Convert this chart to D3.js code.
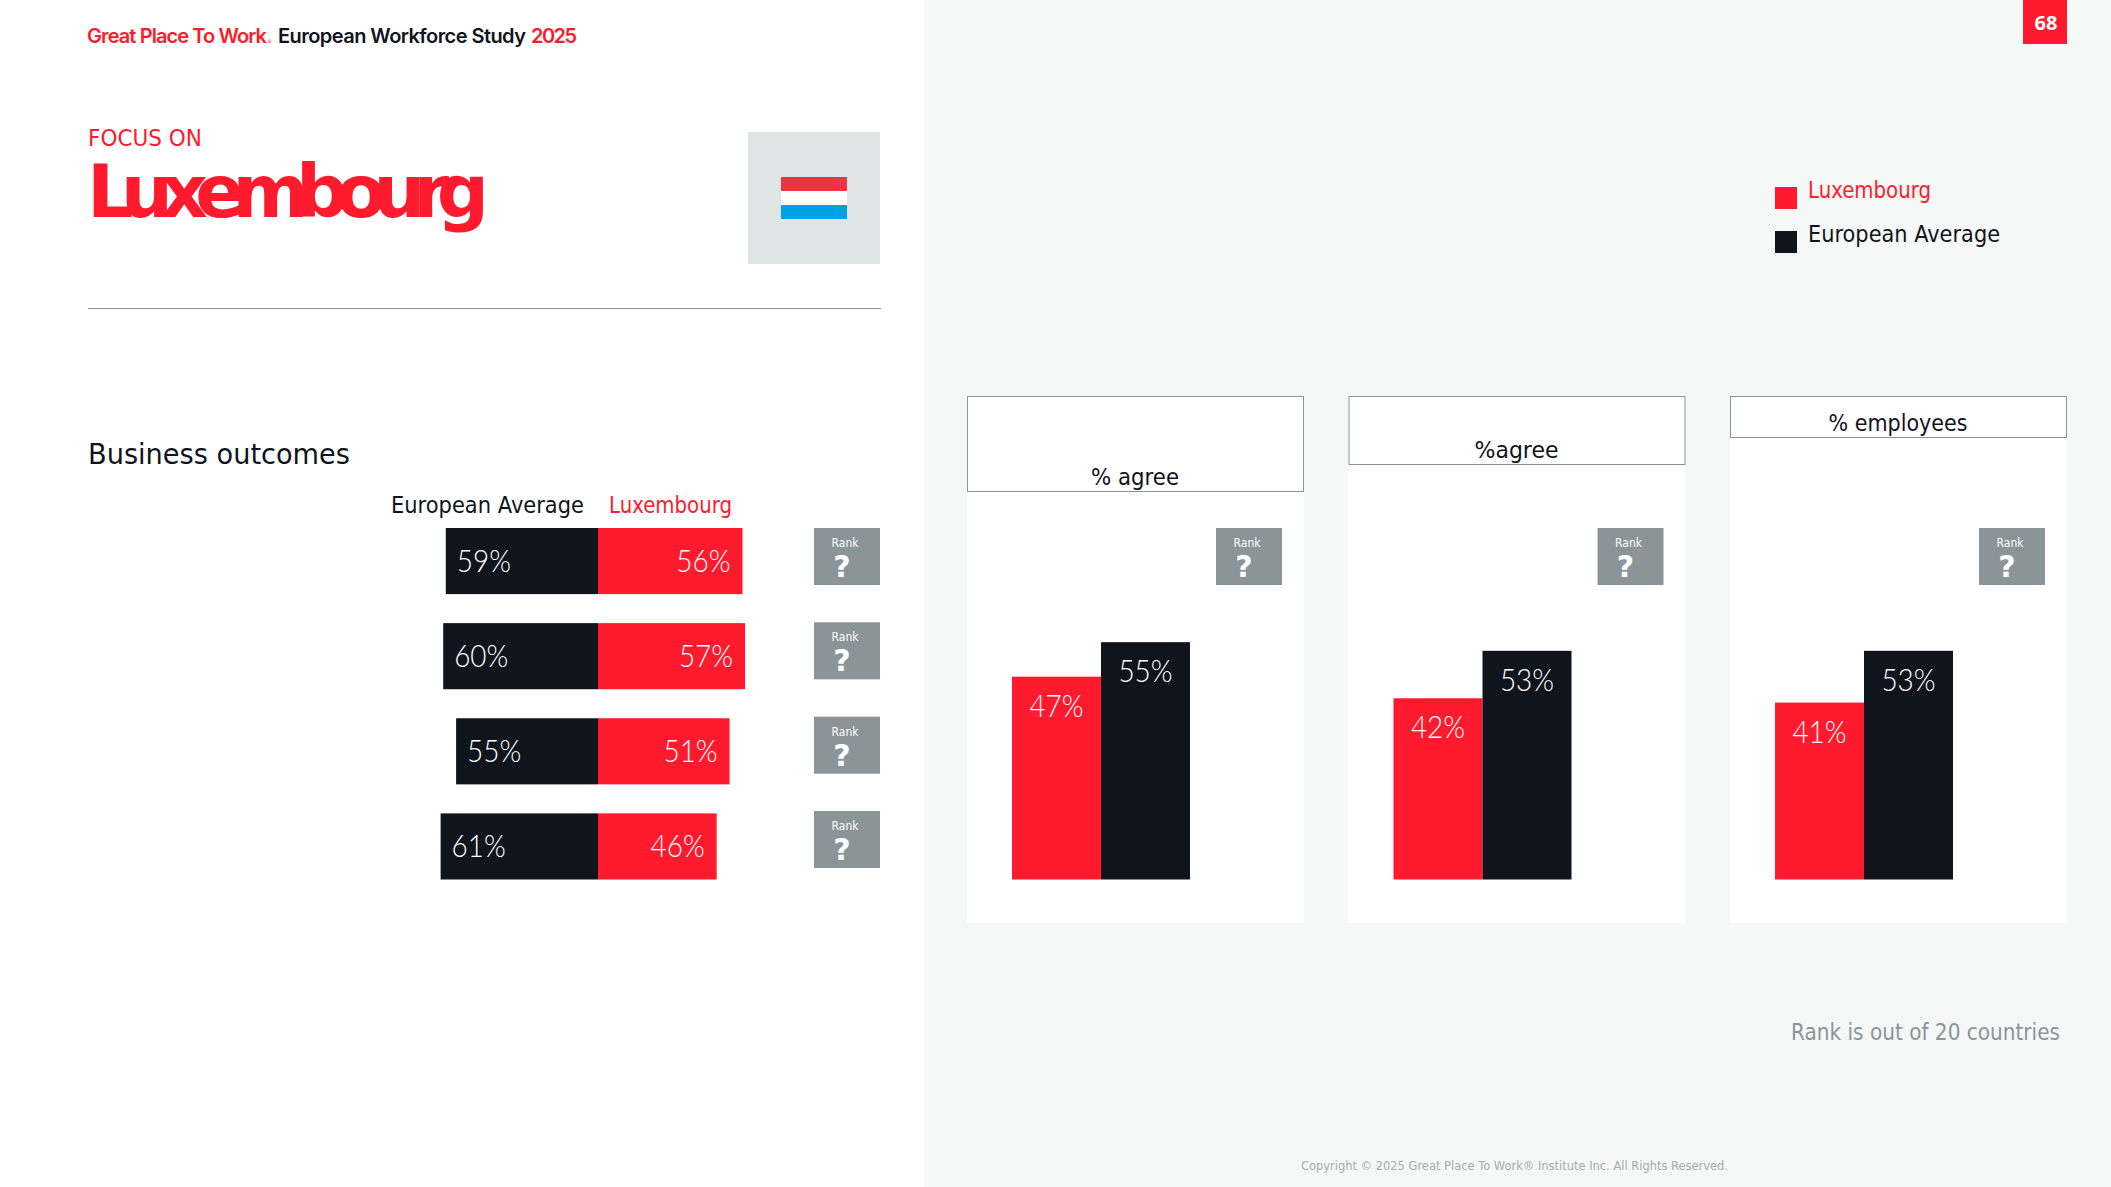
<!DOCTYPE html>
<html>
<head>
<meta charset="utf-8">
<script src="https://cdn.jsdelivr.net/npm/d3@7/dist/d3.min.js"></script>
<style>
  html, body { margin: 0; padding: 0; background: #fff; overflow: hidden; }
  svg { display: block; font-family: "DejaVu Sans", sans-serif; }
  .value { font-family: Lato, sans-serif; font-weight: 300; font-size: 31px; fill: #fff; }
</style>
</head>
<body>
<div id="slide"></div>
<script>
const seriesNames = ['Luxembourg', 'European Average'];

// left chart, business outcomes
const outcomeLuxembourg = [56, 57, 51, 46];
const outcomeEurope = [59, 60, 55, 61];
const outcomeRanks = ['?', '?', '?', '?'];

// right panels
const panelTitles = ['% agree', '%agree', '% employees'];
const panelLuxembourg = [47, 42, 41];
const panelEurope = [55, 53, 53];
const panelRanks = ['?', '?', '?'];

const RED = '#ff1a2d';
const INK = '#10141c';
const GREY = '#8a9499';

const svg = d3.select('#slide').append('svg')
    .attr('width', 2111)
    .attr('height', 1187);

// small helper so every text gets the same treatment
function label(parent, str, x, y, size, color, opts = {}) {
    const t = parent.append('text')
        .attr('x', x)
        .attr('y', y)
        .attr('font-size', size)
        .attr('fill', color)
        .attr('font-weight', opts.weight || 400)
        .attr('text-anchor', opts.anchor || 'start')
        .text(str);
    if (opts.family) t.attr('font-family', opts.family);
    if (opts.len) {
        t.attr('textLength', opts.len).attr('lengthAdjust', opts.adjust || 'spacingAndGlyphs');
    }
    return t;
}

// the value font runs a bit wider than the original, squeeze it in
function squeeze(sel) {
    sel.each(function() {
        d3.select(this)
            .attr('textLength', this.getComputedTextLength() * 0.9)
            .attr('lengthAdjust', 'spacingAndGlyphs');
    });
}

function rankBox(parent, x, y, rank) {
    parent.append('rect')
        .attr('x', x).attr('y', y)
        .attr('width', 66).attr('height', 57)
        .attr('fill', GREY);
    label(parent, 'Rank', x + 31, y + 19, 13, '#fff', { anchor: 'middle', len: 27 });
    label(parent, rank, x + 28, y + 49, 30, '#fff', { anchor: 'middle', weight: 700 });
}

// backgrounds
svg.append('rect').attr('width', 2111).attr('height', 1187).attr('fill', '#fff');
svg.append('rect').attr('x', 924).attr('width', 1187).attr('height', 1187).attr('fill', '#f6f8f7');

// header line
const headFont = 'Inter, sans-serif';
label(svg, 'Great Place To Work', 87, 43, 20, RED, { weight: 600, len: 180, adjust: 'spacing', family: headFont });
label(svg, '®', 267, 43, 5, RED);
label(svg, 'European Workforce Study', 278, 43, 20, INK, { weight: 600, len: 248, adjust: 'spacing', family: headFont });
label(svg, '2025', 531, 43, 20, RED, { weight: 600, len: 46, adjust: 'spacing', family: headFont });

// page number
svg.append('rect').attr('x', 2023).attr('y', 0).attr('width', 44).attr('height', 44).attr('fill', RED);
label(svg, '68', 2046, 30, 20, '#fff', { anchor: 'middle', weight: 700, family: '"Noto Sans", sans-serif' });

// title block
label(svg, 'FOCUS ON', 88, 146, 23, RED, { len: 114 });
label(svg, 'Luxembourg', 87, 217, 73, RED, { weight: 700, len: 402, adjust: 'spacing' });

const flag = svg.append('g');
flag.append('rect').attr('x', 748).attr('y', 132).attr('width', 132).attr('height', 132).attr('fill', '#dfe4e4');
flag.selectAll('rect.stripe')
    .data(['#ef3340', '#fff', '#00a2e1'])
    .join('rect')
    .attr('class', 'stripe')
    .attr('x', 781)
    .attr('y', (d, i) => 177 + i * 14)
    .attr('width', 66)
    .attr('height', 14)
    .attr('fill', d => d);

svg.append('line')
    .attr('x1', 88).attr('x2', 881)
    .attr('y1', 308.5).attr('y2', 308.5)
    .attr('stroke', GREY).attr('stroke-width', 1);

// legend top right
const legend = svg.append('g');
seriesNames.forEach((name, i) => {
    const c = i === 0 ? RED : INK;
    legend.append('rect')
        .attr('x', 1775).attr('y', 187 + i * 44)
        .attr('width', 22).attr('height', 22)
        .attr('fill', c);
    label(legend, name, 1808, 198 + i * 44, 23, c, { len: i === 0 ? 123 : 192 });
});

// ---- left chart
label(svg, 'Business outcomes', 88, 464, 29, INK, { len: 262 });
label(svg, 'European Average', 391, 513, 23, INK, { len: 193 });
label(svg, 'Luxembourg', 609, 513, 23, RED, { len: 123 });

const rows = d3.range(outcomeEurope.length);
const rowY = d3.scaleBand()
    .domain(rows)
    .range([528, 879.5])
    .paddingInner(0.305);

// zero sits in the middle, europe grows left and luxembourg right
const xRight = d3.scaleLinear().domain([0, 100]).range([598, 856]);
const xLeft = d3.scaleLinear().domain([0, 100]).range([598, 340]);

const left = svg.append('g');

left.selectAll('rect.eu')
    .data(outcomeEurope)
    .join('rect')
    .attr('class', 'eu')
    .attr('x', d => xLeft(d))
    .attr('y', (d, i) => rowY(i))
    .attr('width', d => xLeft(0) - xLeft(d))
    .attr('height', rowY.bandwidth())
    .attr('fill', INK);

left.selectAll('rect.lux')
    .data(outcomeLuxembourg)
    .join('rect')
    .attr('class', 'lux')
    .attr('x', xRight(0))
    .attr('y', (d, i) => rowY(i))
    .attr('width', d => xRight(d) - xRight(0))
    .attr('height', rowY.bandwidth())
    .attr('fill', RED);

left.selectAll('text.eu')
    .data(outcomeEurope)
    .join('text')
    .attr('class', 'eu value')
    .attr('x', d => xLeft(d) + 11)
    .attr('y', (d, i) => rowY(i) + 44)
    .text(d => d + '%')
    .call(squeeze);

left.selectAll('text.lux')
    .data(outcomeLuxembourg)
    .join('text')
    .attr('class', 'lux value')
    .attr('x', d => xRight(d) - 12)
    .attr('y', (d, i) => rowY(i) + 44)
    .attr('text-anchor', 'end')
    .text(d => d + '%')
    .call(squeeze);

const rankY = d3.scalePoint().domain(rows).range([528, 811]);
outcomeRanks.forEach((r, i) => rankBox(svg, 814, rankY(i), r));

// ---- right panels
const panelX = d3.scalePoint().domain(d3.range(panelTitles.length)).range([967, 1730]);
const headerBottom = [491, 464, 437];
const barX = d3.scaleBand().domain(seriesNames).range([45, 223]);
const barY = d3.scaleLinear().domain([0, 100]).range([879.5, 448]);

panelTitles.forEach((title, i) => {
    const g = svg.append('g').attr('transform', `translate(${panelX(i)},0)`);

    g.append('rect')
        .attr('width', 337).attr('y', 396).attr('height', 923 - 396)
        .attr('fill', '#fff');
    g.append('rect')
        .attr('x', 0.5).attr('y', 396.5)
        .attr('width', 336).attr('height', headerBottom[i] - 396)
        .attr('fill', '#fff')
        .attr('stroke', GREY).attr('stroke-width', 1);
    label(g, title, 168, headerBottom[i] - 6, 23, INK, { anchor: 'middle', len: [88, 84, 139][i] });

    rankBox(g, 249, 528, panelRanks[i]);

    const vals = [panelLuxembourg[i], panelEurope[i]];
    g.selectAll('rect.bar')
        .data(vals)
        .join('rect')
        .attr('class', 'bar')
        .attr('x', (d, j) => barX(seriesNames[j]))
        .attr('y', d => barY(d))
        .attr('width', barX.bandwidth())
        .attr('height', d => barY(0) - barY(d))
        .attr('fill', (d, j) => j === 0 ? RED : INK);

    g.selectAll('text.value')
        .data(vals)
        .join('text')
        .attr('class', 'value')
        .attr('x', (d, j) => barX(seriesNames[j]) + barX.bandwidth() / 2)
        .attr('y', d => barY(d) + 40)
        .attr('text-anchor', 'middle')
        .text(d => d + '%')
        .call(squeeze);
});

// footer
label(svg, 'Rank is out of 20 countries', 1791, 1040, 23, GREY, { len: 269 });
label(svg, 'Copyright © 2025 Great Place To Work® Institute Inc. All Rights Reserved.', 1301, 1170, 13, '#a3abaf', { len: 427 });
</script>
</body>
</html>
